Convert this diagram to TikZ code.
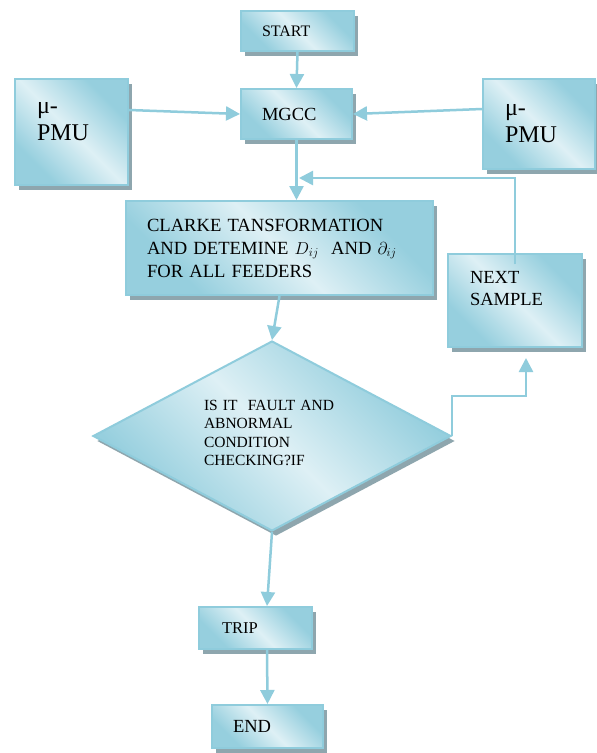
\documentclass[tikz,border=0pt]{standalone}
\usepackage{fontspec}
\setmainfont{Liberation Serif}
\usetikzlibrary{shapes.geometric,shadows,arrows.meta,calc}
\definecolor{bdark}{RGB}{150,207,222}
\definecolor{blight}{RGB}{222,240,245}
\definecolor{bline}{RGB}{143,204,220}
\definecolor{shadowc}{RGB}{142,166,174}
\pgfdeclarehorizontalshading{wordblue}{100bp}{color(0bp)=(bdark); color(28bp)=(bdark); color(50bp)=(blight); color(72bp)=(bdark); color(100bp)=(bdark)}
\tikzset{
  box/.style={draw=bline, line width=2pt, shading=wordblue, shading angle=45,
    inner sep=0pt, align=left,
    drop shadow={shadow xshift=4pt,shadow yshift=-5pt,fill=shadowc,opacity=1}},
  arr/.style={draw=bline, line width=2.5pt, -{Triangle[width=14pt,length=14pt]}},
  fsA/.style={font=\fontsize{16}{19}\selectfont},
  fsB/.style={font=\fontsize{18.5}{22}\selectfont},
  fsP/.style={font=\fontsize{24}{27}\selectfont},
  fsC/.style={font=\fontsize{18.6}{23}\selectfont},
  fsD/.style={font=\fontsize{15.5}{18.3}\selectfont}
}
\begin{document}
\begin{tikzpicture}[x=1pt,y=-1pt]
\useasboundingbox[fill=white] (0,0) rectangle (597,753);

\node[box, fsA, minimum width=113pt, minimum height=40pt, text width=71pt] (start) at (297.5,31) {START};
\node[box, fsB, minimum width=111pt, minimum height=50pt, text width=69pt] (mgcc) at (296.5,114) {MGCC};
\node[box, fsP, minimum width=113pt, minimum height=106pt, text width=69pt, text depth=48pt] (pmul) at (71.5,132) {μ-\\PMU};
\node[box, fsP, minimum width=112pt, minimum height=90pt, text width=68pt] (pmur) at (539,124) {μ-\\PMU};
\node[box, fsC, minimum width=307pt, minimum height=94pt, text width=265pt] (clarke) at (279.5,248)
  {CLARKE TANSFORMATION\\AND DETEMINE $D_{ij}$\ \ AND $\partial_{ij}$\\FOR ALL FEEDERS};
\node[box, fsB, minimum width=134pt, minimum height=93pt, text width=90pt, text depth=47pt] (next) at (515,300.5) {NEXT\\SAMPLE};
\node[box, diamond, aspect=1.88, fsD, minimum width=358pt, minimum height=190pt, text width=136pt, text depth=61pt] (dia) at (272,436)
  {IS IT\ \ FAULT AND\\ABNORMAL\\CONDITION\\CHECKING?IF};
\node[box, font=\fontsize{16.5}{19}\selectfont, minimum width=113pt, minimum height=42pt, text width=67pt] (trip) at (255.5,628) {TRIP};
\node[box, fsB, minimum width=111pt, minimum height=43pt, text width=69pt] (end) at (267.5,726.5) {END};

\coordinate (fb) at (299,178);

\draw[arr] (start.south) -- (mgcc.north);
\draw[arr] ([yshift=22pt]pmul.east) -- (mgcc.west);
\draw[arr] ([yshift=15pt]pmur.west) -- (mgcc.east);
\draw[arr] (mgcc.south) -- (mgcc.south |- clarke.north);
\draw[arr] ([yshift=-11pt]next.north) -- (next.north |- fb) -- (fb);
\draw[arr] (clarke.south) -- (dia.north);
\draw[arr] (dia.east) |- ($(next.south)+(11,48)$) -- ([xshift=11pt,yshift=-10pt]next.south);
\draw[arr] (dia.south) -- ([xshift=11.5pt]trip.north);
\draw[arr] ([xshift=11.5pt]trip.south) -- (end.north);
\end{tikzpicture}
\end{document}
